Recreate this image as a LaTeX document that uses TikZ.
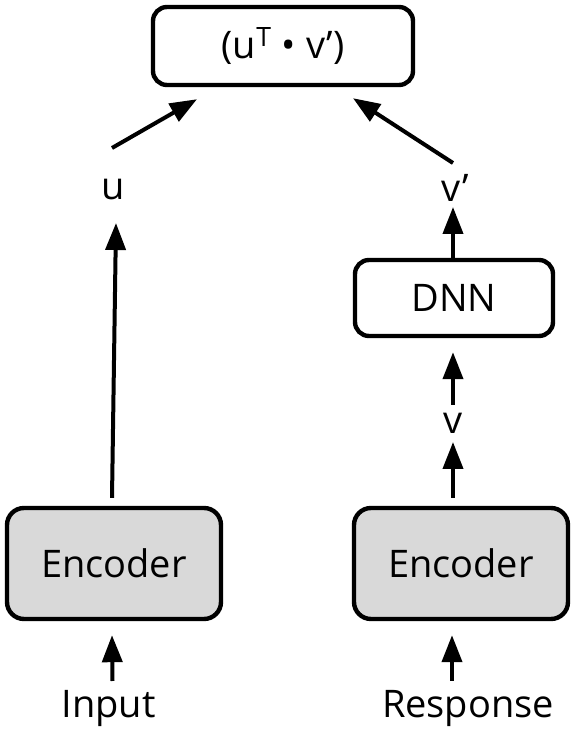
\documentclass[tikz,border=0pt]{standalone}
\usepackage{fontspec}
\setmainfont{Open Sans}
\usetikzlibrary{positioning,arrows.meta}
\definecolor{encgray}{HTML}{D9D9D9}

\tikzset{
  encbox/.style={draw, line width=2.2pt, rounded corners=8.5pt, fill=encgray,
    minimum width=107pt, minimum height=55.5pt, inner sep=0pt},
  plainbox/.style={draw, line width=2.2pt, rounded corners=7pt, inner sep=0pt},
  lbl/.style={inner sep=0pt},
  arr/.style={line width=2pt, -{Triangle[length=13.5pt,width=10pt]}},
}

\begin{document}
\begin{tikzpicture}[on grid, font=\fontsize{19}{23}\selectfont]
  % encoders and inputs
  \node [encbox] (encL) at (57pt,85.25pt) {Encoder};
  \node [encbox, right=173.5pt of encL] (encR) {Encoder};
  \node [lbl, below=72.75pt of encL, xshift=-2.75pt] (input) {Input};
  \node [lbl, below=72.75pt of encR, xshift=3.5pt] (resp) {Response};

  % vectors
  \node [lbl, above=186.75pt of encL, xshift=-0.5pt] (u) {u};
  \node [plainbox, minimum width=99pt, minimum height=38pt,
         above=132.75pt of encR, xshift=-3.5pt] (dnn) {DNN};
  \node [lbl, below=62.5pt of dnn, xshift=-0.5pt] (v) {v};
  \node [lbl, above=55pt of dnn, xshift=0.5pt] (vp) {v’};
  \node [plainbox, minimum width=130pt, minimum height=39pt,
         above right=72pt and 85pt of u] (dot) {(u\textsuperscript{T} • v’)};

  \draw [arr] ([xshift=2pt,yshift=14pt]input.center) -- ([xshift=-1pt,yshift=-7pt]encL.south);
  \draw [arr] ([xshift=-8pt,yshift=14pt]resp.center) -- ([xshift=-4.5pt,yshift=-7pt]encR.south);
  \draw [arr] ([xshift=-1pt,yshift=4pt]encL.north) -- ([xshift=1.5pt,yshift=-16.5pt]u.center);
  \draw [arr] ([xshift=-4pt,yshift=4pt]encR.north) -- ([yshift=-9.5pt]v.center);
  \draw [arr] ([yshift=9pt]v.center) -- ([xshift=-0.5pt,yshift=-7pt]dnn.south);
  \draw [arr] ([xshift=-0.5pt]dnn.north) -- ([xshift=-1pt,yshift=-9.5pt]vp.center);
  \draw [arr] ([xshift=-0.5pt,yshift=21pt]u.center) -- ([xshift=-43pt,yshift=-6pt]dot.south);
  \draw [arr] ([xshift=-1pt,yshift=12.5pt]vp.center) -- ([xshift=35pt,yshift=-5.5pt]dot.south);

  \useasboundingbox (0,0) rectangle (290pt,367pt);
\end{tikzpicture}
\end{document}
